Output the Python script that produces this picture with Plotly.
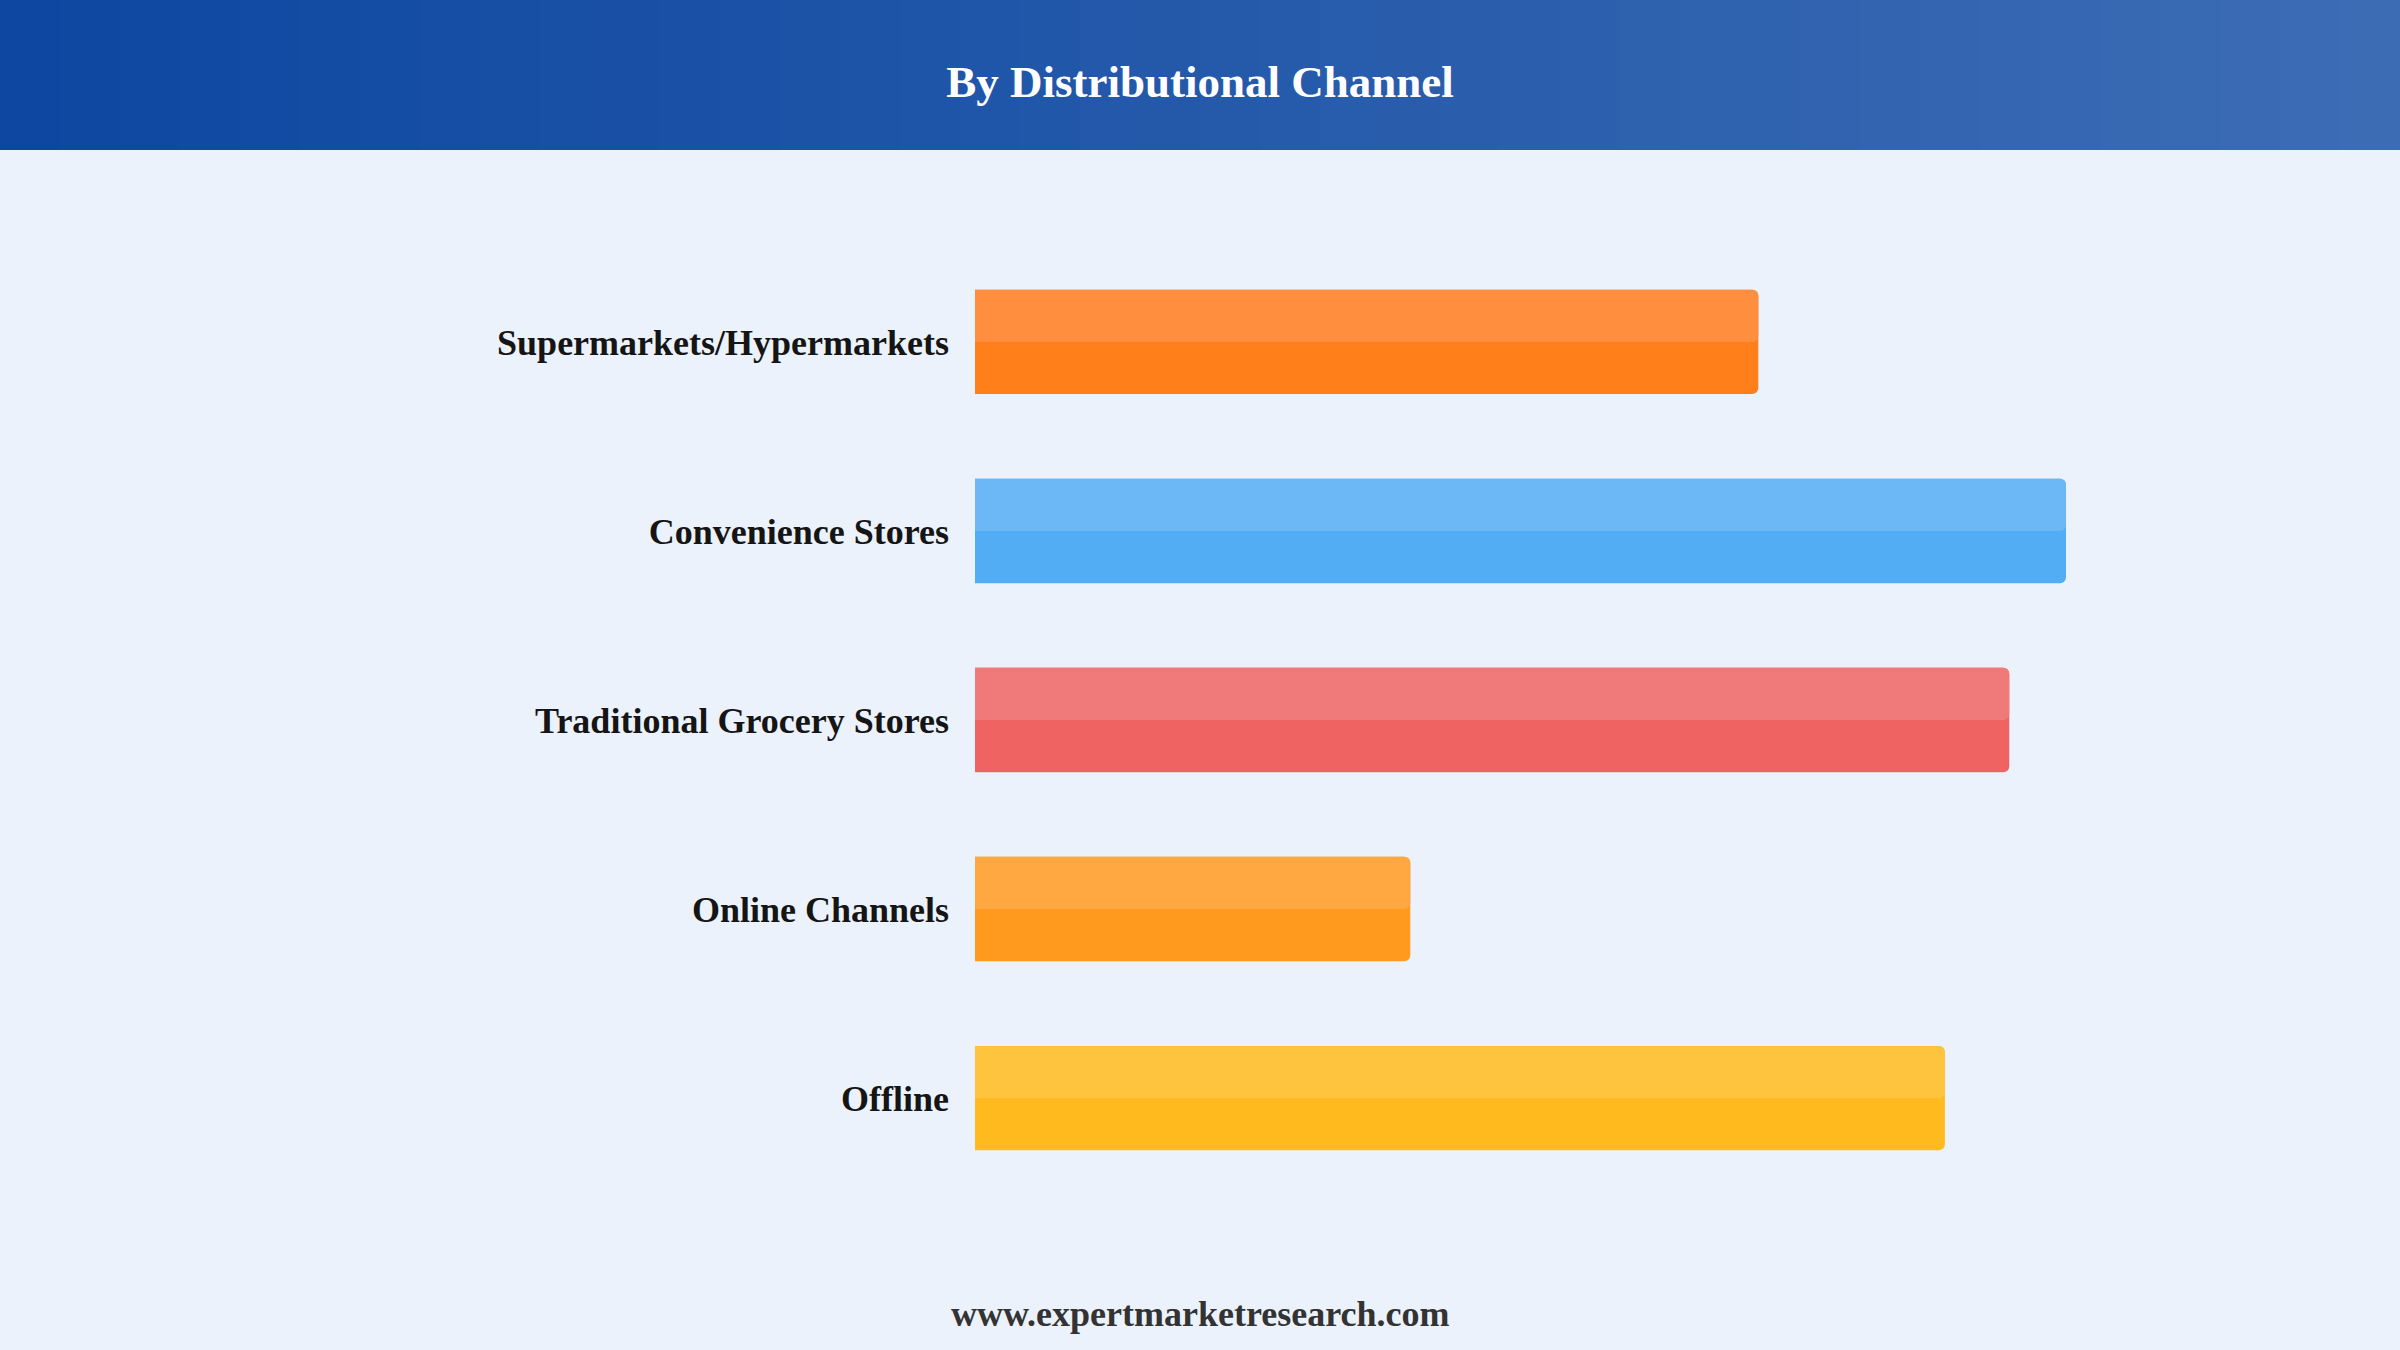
import plotly.graph_objects as go

# data (relative bar lengths, convenience stores = 100)
channels = ["Supermarkets/Hypermarkets", "Convenience Stores", "Traditional Grocery Stores",
            "Online Channels", "Offline"]
shares = [71.8, 100, 94.8, 39.9, 88.9]

bar_colors = ["#ff7f1a", "#52adf4", "#ef6463", "#ff9a1e", "#ffba1e"]
top_colors = ["#ff8f3f", "#6cb8f6", "#f07a7a", "#ffa740", "#ffc43e"]

W, H = 2400, 1350
BG = "#ebf2fb"
FONT = "Liberation Serif, Times New Roman, serif"


def hex_mix(c1, c2, t):
    a = [int(c1[i:i + 2], 16) for i in (1, 3, 5)]
    b = [int(c2[i:i + 2], 16) for i in (1, 3, 5)]
    return "#" + "".join("%02x" % round(a[k] + (b[k] - a[k]) * t) for k in range(3))


fig = go.Figure()

# darker full bar
fig.add_trace(go.Bar(
    y=channels, x=shares, orientation="h",
    width=0.552, offset=-0.276,
    marker=dict(color=bar_colors, line=dict(width=0), cornerradius=6),
    hoverinfo="skip", showlegend=False,
))
# lighter upper half
fig.add_trace(go.Bar(
    y=channels, x=shares, orientation="h",
    width=0.276, offset=-0.276,
    marker=dict(color=top_colors, line=dict(width=0), cornerradius=6),
    hoverinfo="skip", showlegend=False,
))

# header band, drawn as thin strips to get the left-right gradient
header_h = 150 / H
n_strips = 40
shapes = []
for i in range(n_strips):
    shapes.append(dict(
        type="rect", xref="paper", yref="paper", layer="below",
        x0=i / n_strips, x1=(i + 1) / n_strips + 0.001,
        y0=1 - header_h, y1=1,
        fillcolor=hex_mix("#0d47a1", "#3c6cb4", i / (n_strips - 1)),
        line=dict(width=0),
    ))

fig.update_layout(
    width=W, height=H,
    margin=dict(l=0, r=0, t=0, b=0, pad=0),
    paper_bgcolor=BG, plot_bgcolor=BG,
    barmode="overlay",
    shapes=shapes,
    title=dict(
        text="By Distributional Channel",
        x=0.5, xref="container", xanchor="center",
        y=1 - 81 / H, yref="container", yanchor="middle",
        font=dict(family=FONT, size=45, color="white", weight="bold"),
    ),
    annotations=[dict(
        text="www.expertmarketresearch.com",
        xref="paper", yref="paper", x=0.5, y=1 - 1314 / H,
        xanchor="center", yanchor="middle", showarrow=False,
        font=dict(family=FONT, size=36, color="#333333", weight="bold"),
    )],
    xaxis=dict(
        domain=[975 / W, 2066 / W], range=[0, 100],
        visible=False, fixedrange=True,
    ),
    yaxis=dict(
        domain=[1 - 1192.6 / H, 1 - 247.4 / H],
        categoryorder="array", categoryarray=channels,
        autorange="reversed",
        showgrid=False, zeroline=False, showline=False,
        ticks="", ticklabelstandoff=25,
        tickfont=dict(family=FONT, size=36, color="#151515", weight="bold"),
        fixedrange=True,
    ),
)

fig.write_html("out.html", config={"displayModeBar": False},
               post_script="document.body.style.margin='0';")
